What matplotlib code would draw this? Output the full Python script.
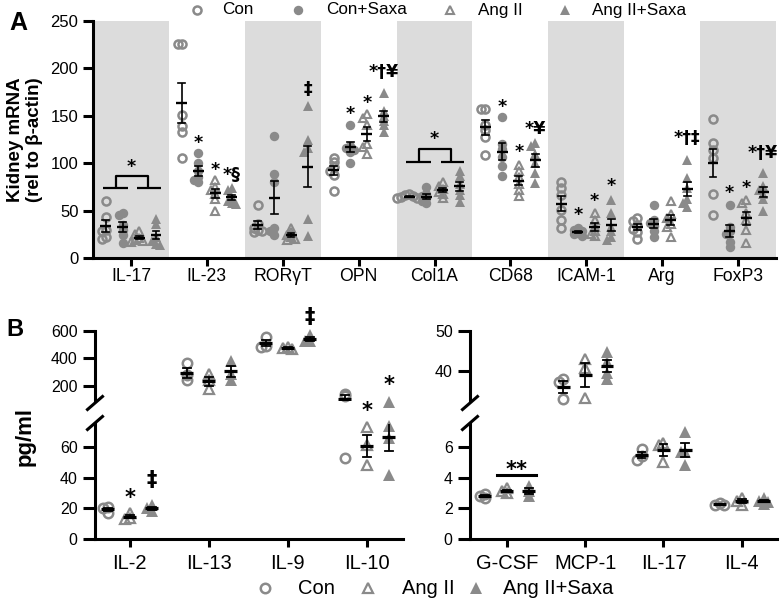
import matplotlib
matplotlib.use('Agg')
import matplotlib.pyplot as plt
import numpy as np
from matplotlib.lines import Line2D
from matplotlib.transforms import offset_copy

plt.rcParams['font.family'] = ['Liberation Sans', 'DejaVu Sans']

W, H = 780, 611
fig = plt.figure(figsize=(W / 100, H / 100), dpi=100)

GRAY = '#8a8a8a'
BAND = '#dcdcdc'

# ---------------- Panel A data ----------------
a_genes = ['IL-17', 'IL-23', 'RORγT', 'OPN', 'Col1A', 'CD68', 'ICAM-1', 'Arg', 'FoxP3']
a_groups = ['Con', 'Con+Saxa', 'Ang II', 'Ang II+Saxa']
a_con = [[60, 43, 30, 28, 22, 20], [226, 226, 151, 139, 133, 105], [56, 36, 32, 30, 28, 27],
         [106, 101, 96, 92, 88, 71], [67, 66, 65, 64, 63, 63], [157, 157, 140, 135, 128, 109],
         [80, 74, 66, 51, 40, 32], [42, 39, 35, 31, 27, 20], [147, 121, 114, 106, 68, 45]]
a_con_saxa = [[47, 45, 35, 30, 24, 16], [111, 100, 92, 85, 82, 80], [129, 89, 80, 32, 28, 24],
              [140, 118, 116, 114, 112, 100], [75, 68, 65, 63, 60, 58], [149, 120, 115, 107, 97, 86],
              [32, 30, 28, 26, 25, 23], [56, 40, 37, 34, 28, 22], [56, 33, 28, 25, 17, 12]]
a_ang = [[29, 25, 21, 19, 18, 17], [82, 75, 72, 68, 62, 50], [32, 27, 24, 22, 20, 19],
         [152, 148, 140, 120, 117, 110], [80, 76, 73, 70, 68, 63], [98, 92, 85, 78, 72, 65],
         [47, 40, 33, 28, 25, 23], [60, 46, 42, 36, 33, 22], [61, 58, 47, 40, 30, 16]]
a_ang_saxa = [[41, 36, 22, 18, 15, 14], [74, 72, 63, 60, 58, 57], [160, 125, 116, 112, 41, 23],
              [174, 155, 150, 145, 140, 133], [92, 86, 78, 72, 66, 59], [121, 118, 110, 100, 90, 79],
              [61, 47, 33, 28, 22, 19], [103, 84, 74, 62, 58, 54], [90, 76, 72, 68, 62, 50]]
a_yticks = [0, 50, 100, 150, 200, 250]

# significance labels (category index, group index, y value, text)
a_sig_cat = [1, 1, 1, 2, 3, 3, 3, 5, 5, 5, 6, 6, 6, 7, 8, 8, 8]
a_sig_grp = [1, 2, 3, 3, 1, 2, 3, 1, 2, 3, 1, 2, 3, 3, 1, 2, 3]
a_sig_y = [126, 98, 89, 180, 157, 169, 198, 164, 117, 138, 50, 65, 81, 128, 74, 79, 112]
a_sig_txt = ['*', '*', '*§', '‡', '*', '*', '*†¥', '*', '*', '*¥', '*', '*', '*', '*†‡', '*', '*', '*†¥']
a_brk_cat = [0, 4]
a_brk_low = [74, 101]
a_brk_high = [87, 115]
a_brk_star = [101, 130]

# ---------------- Panel B data ----------------
b_left_cats = ['IL-2', 'IL-13', 'IL-9', 'IL-10']
b_left_con = [[21, 20, 17], [368, 280, 241], [555, 490, 485], [140, 128, 53]]
b_left_ang = [[17, 14, 13], [285, 245, 175], [485, 478, 470], [73, 61, 48]]
b_left_ang_saxa = [[22, 20, 18], [382, 290, 245], [570, 530, 525], [85, 74, 66, 42]]
b_right_cats = ['G-CSF', 'MCP-1', 'IL-17', 'IL-4']
b_right_con = [[2.95, 2.8, 2.65], [37.9, 37.3, 33.0], [5.9, 5.4, 5.15], [2.35, 2.25, 2.2]]
b_right_ang = [[3.3, 3.1, 3.0], [43.0, 40.8, 33.2], [6.25, 6.1, 5.05], [2.65, 2.5, 2.2]]
b_right_ang_saxa = [[3.45, 3.1, 2.8], [44.8, 42.3, 39.6, 38.1], [7.0, 5.7, 5.65, 4.85], [2.65, 2.5, 2.4, 2.3]]
b_groups = ['Con', 'Ang II', 'Ang II+Saxa']
bl_up_ticks = [200, 400, 600]
bl_lo_ticks = [0, 20, 40, 60]
br_up_ticks = [40, 50]
br_lo_ticks = [0, 2, 4, 6]


# ---------------- helpers ----------------
def ax_px(x0, y0, x1, y1):
    return fig.add_axes([x0 / W, 1 - y1 / H, (x1 - x0) / W, (y1 - y0) / H])


def fxy(x, y):
    return x / W, 1 - y / H


def swarm(vals, ppu_y, ppu_x, diam, step):
    placed, offs = [], []
    for v in vals:
        yy = v * ppu_y
        for k in [0, -1, 1, -2, 2, -3, 3]:
            xx = k * step
            if all((xx - px) ** 2 + (yy - py) ** 2 >= diam ** 2 for px, py in placed):
                break
        placed.append((xx, yy))
        offs.append(xx / ppu_x)
    return offs


def mean_sem(v):
    v = np.asarray(v, float)
    return v.mean(), v.std(ddof=1) / np.sqrt(len(v))


def draw_mean(ax, x, m, s, hw, ch, lw_m, lw_e, clip=True):
    ax.plot([x, x], [m - s, m + s], color='k', lw=lw_e, zorder=5, clip_on=clip, solid_capstyle='butt')
    for yy in (m - s, m + s):
        ax.plot([x - ch, x + ch], [yy, yy], color='k', lw=lw_e, zorder=5, clip_on=clip)
    ax.plot([x - hw, x + hw], [m, m], color='k', lw=lw_m, zorder=6, clip_on=clip, solid_capstyle='butt')


def sig(ax, x, y, s, fs):
    if s == '*' or s == '**':
        dy = 0.56 * fs
    elif s == '‡':
        dy = 0.36 * fs
    else:
        dy = 0.38 * fs
    tr = offset_copy(ax.transData, fig=fig, y=-dy, units='points')
    ax.text(x, y, s, ha='center', va='baseline', fontsize=fs, fontweight='bold', transform=tr,
            family=['DejaVu Sans'], clip_on=False, zorder=8)


def style_axes(ax, lw=2.2):
    for sp in ['top', 'right']:
        ax.spines[sp].set_visible(False)
    for sp in ['left', 'bottom']:
        ax.spines[sp].set_linewidth(lw)


# ---------------- Panel A ----------------
axA = ax_px(93, 21, 776, 258)
style_axes(axA)
axA.set_xlim(-0.5, 8.5)
axA.set_ylim(0, 250)
for c in range(0, len(a_genes), 2):
    axA.axvspan(c - 0.5, c + 0.5, color=BAND, lw=0, zorder=0)
axA.set_xticks(range(len(a_genes)))
axA.set_xticklabels(a_genes, fontsize=12.7)
axA.set_yticks(a_yticks)
axA.tick_params(axis='y', length=7.5, width=2.2, labelsize=12, pad=3)
axA.tick_params(axis='x', length=5.5, width=2.2, pad=2)

a_sets = [a_con, a_con_saxa, a_ang, a_ang_saxa]
a_off = [-0.33, -0.11, 0.11, 0.33]
a_sty = [dict(marker='o', mfc='none', mec=GRAY, mew=1.8, ms=5.8),
         dict(marker='o', mfc=GRAY, mec=GRAY, mew=0, ms=6.8),
         dict(marker='^', mfc='none', mec=GRAY, mew=1.5, ms=6.3),
         dict(marker='^', mfc=GRAY, mec=GRAY, mew=0, ms=7.2)]
ppu_y_A = 237 / 250
ppu_x_A = 683 / 9
for gi, data in enumerate(a_sets):
    for ci, vals in enumerate(data):
        x0 = ci + a_off[gi]
        offs = swarm(vals, ppu_y_A, ppu_x_A, 4.0, 4.0)
        axA.plot(np.array(offs) + x0, vals, ls='none', zorder=3, clip_on=False, **a_sty[gi])
        m, s = mean_sem(vals)
        draw_mean(axA, x0, m, s, 0.072, 0.045, 1.7, 1.2)

for c, gi, y, t in zip(a_sig_cat, a_sig_grp, a_sig_y, a_sig_txt):
    sig(axA, c + a_off[gi], y, t, 12.5)
for c, lo, hi, st in zip(a_brk_cat, a_brk_low, a_brk_high, a_brk_star):
    kw = dict(color='k', lw=1.6, zorder=7, solid_capstyle='butt')
    axA.plot([c - 0.37, c - 0.04], [lo, lo], **kw)
    axA.plot([c + 0.08, c + 0.39], [lo, lo], **kw)
    axA.plot([c - 0.2, c - 0.2, c + 0.22, c + 0.22], [lo, hi, hi, lo], **kw)
    sig(axA, c, st, '*', 12.5)

fig.text(*fxy(25, 140), 'Kidney mRNA\n(rel to β-actin)', rotation=90, ha='center', va='center',
         fontsize=13.5, fontweight='bold', linespacing=1.15)
fig.text(*fxy(18, 23), 'A', ha='center', va='center', fontsize=18, fontweight='bold')

# legend A
leg_a_mx = [197, 298, 450, 565]
leg_a_tx = [222, 326, 478, 592]
for i, name in enumerate(a_groups):
    fig.add_artist(Line2D([leg_a_mx[i] / W], [1 - 10 / H], transform=fig.transFigure, ls='none',
                          **a_sty[i]))
    fig.text(*fxy(leg_a_tx[i], 10), name, ha='left', va='center', fontsize=12.3)

# ---------------- Panel B ----------------
b_sty = [dict(marker='o', mfc='none', mec=GRAY, mew=1.8, ms=6.8),
         dict(marker='^', mfc='none', mec=GRAY, mew=1.6, ms=7.5),
         dict(marker='^', mfc=GRAY, mec=GRAY, mew=0, ms=8.2)]
b_off = [-0.28, 0.0, 0.28]


def b_panel(x0, x1, xlim, cats, sets, up_lim, lo_lim, up_ticks, lo_ticks, thr):
    up = ax_px(x0, 331, x1, 401)
    lo = ax_px(x0, 424, x1, 539)
    for ax in (up, lo):
        style_axes(ax)
        ax.set_xlim(*xlim)
        ax.tick_params(axis='y', length=8.5, width=2.2, labelsize=11.5, pad=4)
    up.spines['bottom'].set_visible(False)
    up.set_xticks([])
    up.set_ylim(*up_lim)
    up.set_yticks(up_ticks)
    lo.set_ylim(*lo_lim)
    lo.set_yticks(lo_ticks)
    lo.set_xticks(range(len(cats)))
    lo.set_xticklabels(cats, fontsize=14.5)
    lo.tick_params(axis='x', length=6, width=2.2, pad=5)
    ppu_up = 70 / (up_lim[1] - up_lim[0])
    ppu_lo = 115 / (lo_lim[1] - lo_lim[0])
    ppu_x = (x1 - x0) / (xlim[1] - xlim[0])
    for gi, data in enumerate(sets):
        for ci, vals in enumerate(data):
            xc = ci + b_off[gi]
            offs = swarm(vals, ppu_up if min(vals) >= thr else ppu_lo, ppu_x, 4.5, 4.5)
            for v, o in zip(vals, offs):
                ax = up if v >= thr else lo
                ax.plot([xc + o], [v], ls='none', zorder=3, clip_on=False, **b_sty[gi])
            m, s = mean_sem(vals)
            ax = up if m >= thr else lo
            draw_mean(ax, xc, m, s, 0.082, 0.05, 2.3, 1.3)
    # break marks
    for yc in (403, 423):
        fig.add_artist(Line2D([(x0 - 7.5) / W, (x0 + 7.5) / W], [1 - (yc + 6.5) / H, 1 - (yc - 6.5) / H],
                              transform=fig.transFigure, color='k', lw=2.2))
    return up, lo


bl_up, bl_lo = b_panel(95, 403, (-0.44, 3.46), b_left_cats,
                       [b_left_con, b_left_ang, b_left_ang_saxa], (90, 600), (0, 75),
                       bl_up_ticks, bl_lo_ticks, 78)
br_up, br_lo = b_panel(470, 777, (-0.47, 3.45), b_right_cats,
                       [b_right_con, b_right_ang, b_right_ang_saxa], (32.5, 50), (0, 7.5),
                       br_up_ticks, br_lo_ticks, 20)

# significance B
sig(bl_lo, 0 + b_off[1], 30.7, '*', 15)
sig(bl_lo, 0 + b_off[2], 39.5, '‡', 15)
sig(bl_up, 2 + b_off[2], 716, '‡', 15)
sig(bl_lo, 3 + b_off[1], 87, '*', 15)
sig(bl_lo, 3 + b_off[2], 104, '*', 15)
br_lo.plot([-0.12, 0.37], [4.17, 4.17], color='k', lw=2.2, zorder=7)
sig(br_lo, 0.125, 4.86, '**', 15)

fig.text(*fxy(25, 437), 'pg/ml', rotation=90, ha='center', va='center', fontsize=16, fontweight='bold')
fig.text(*fxy(15, 329), 'B', ha='center', va='center', fontsize=17, fontweight='bold')

leg_b_mx = [265, 368, 476]
leg_b_tx = [298, 402, 503]
for i, name in enumerate(b_groups):
    fig.add_artist(Line2D([leg_b_mx[i] / W], [1 - 588 / H], transform=fig.transFigure, ls='none',
                          **b_sty[i]))
    fig.text(*fxy(leg_b_tx[i], 588), name, ha='left', va='center', fontsize=14.5)

fig.savefig('out.png', dpi=100)
